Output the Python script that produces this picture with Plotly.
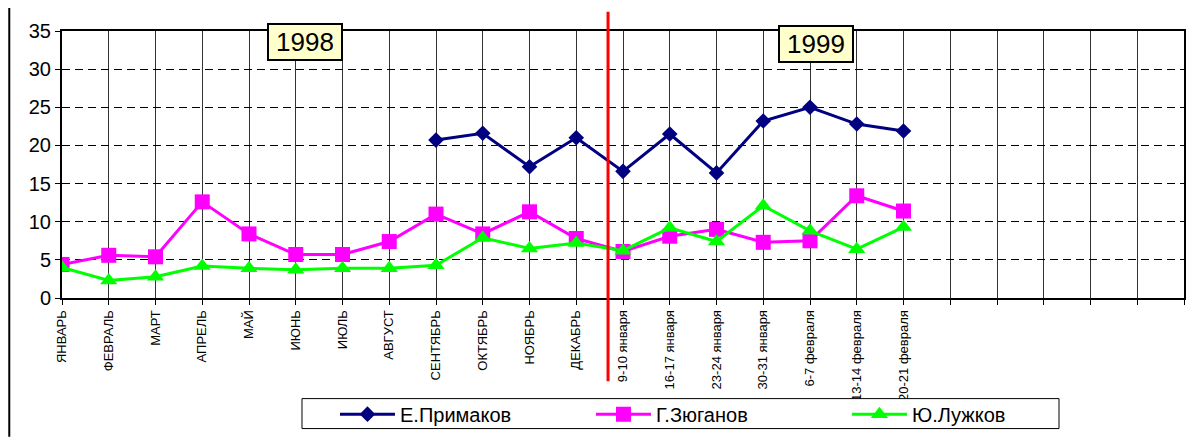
import plotly.graph_objects as go

# categories (19 labelled + 6 empty slots on the right)
periods = ["ЯНВАРЬ", "ФЕВРАЛЬ", "МАРТ", "АПРЕЛЬ", "МАЙ", "ИЮНЬ", "ИЮЛЬ", "АВГУСТ",
           "СЕНТЯБРЬ", "ОКТЯБРЬ", "НОЯБРЬ", "ДЕКАБРЬ",
           "9-10 января", "16-17 января", "23-24 января", "30-31 января",
           "6-7 февраля", "13-14 февраля", "20-21 февраля",
           "", "", "", "", "", ""]

primakov = [None, None, None, None, None, None, None, None,
            20.7, 21.6, 17.2, 21.0, 16.6, 21.5, 16.4, 23.2, 25.0, 22.8, 21.9]
zyuganov = [4.4, 5.6, 5.4, 12.6, 8.4, 5.7, 5.7, 7.4,
            11.0, 8.4, 11.3, 7.8, 6.1, 8.1, 9.0, 7.3, 7.5, 13.4, 11.4]
luzhkov = [4.0, 2.3, 2.8, 4.2, 3.9, 3.7, 3.9, 3.9,
           4.3, 7.9, 6.5, 7.2, 6.2, 9.2, 7.4, 12.1, 8.8, 6.4, 9.3]

FONT = "Liberation Sans, Arial, sans-serif"
idx = list(range(len(periods)))

fig = go.Figure()
series = [
    ("Е.Примаков", primakov, "#000080", "diamond", 12),
    ("Г.Зюганов", zyuganov, "#FF00FF", "square", 15),
    ("Ю.Лужков", luzhkov, "#00FF00", "triangle-up", 15),
]
for name, vals, col, sym, sz in series:
    fig.add_trace(go.Scatter(
        x=idx[:len(vals)], y=vals, name=name, mode="lines+markers",
        line=dict(color=col, width=3),
        marker=dict(symbol=sym, size=sz, color=col),
        connectgaps=False,
    ))

# red separator between 1998 and 1999
fig.add_shape(type="line", xref="x", yref="paper", x0=11.68, x1=11.68,
              y0=1.072, y1=-0.312, line=dict(color="#FF0000", width=3))
# left border of the original chart frame
fig.add_shape(type="line", xref="paper", yref="paper", x0=-0.047, x1=-0.047,
              y0=1.1, y1=-0.52, line=dict(color="black", width=2))
# legend frame (covers the ends of the long tick labels, as in the original)
fig.add_shape(type="rect", xref="paper", yref="paper", x0=0.2139, x1=0.8886,
              y0=-0.3768, y1=-0.489, line=dict(color="black", width=1),
              fillcolor="white", layer="above")

for txt, xpos, ypos in [("1998", 5.2, 0.96), ("1999", 16.13, 0.953)]:
    fig.add_annotation(x=xpos, y=ypos, xref="x", yref="paper", text=txt,
                       xanchor="center", yanchor="middle",
                       showarrow=False, font=dict(size=26, color="black", family=FONT),
                       bgcolor="#FFFFCC", bordercolor="black", borderwidth=2,
                       borderpad=1, width=70, height=32)

fig.update_layout(
    width=1193, height=438,
    margin=dict(l=54, r=17, t=19, b=143),
    paper_bgcolor="white", plot_bgcolor="white",
    font=dict(family=FONT, color="black"),
    showlegend=True,
    legend=dict(orientation="h", x=0.2433, y=-0.362, xanchor="left", yanchor="top",
                borderwidth=0, bgcolor="rgba(0,0,0,0)",
                font=dict(size=20, family=FONT), itemwidth=55,
                entrywidth=186, entrywidthmode="pixels"),
    xaxis=dict(range=[0, 24], tickmode="array", tickvals=idx, ticktext=periods,
               tickangle=-90, tickfont=dict(size=13), ticks="outside", ticklen=5,
               tickcolor="black", showgrid=True, gridcolor="#333333", gridwidth=1,
               showline=True, linecolor="black", linewidth=2, mirror=True,
               zeroline=False),
    yaxis=dict(range=[0, 35], dtick=5, tickfont=dict(size=20), ticks="outside",
               ticklen=5, tickcolor="black", showgrid=True, gridcolor="black",
               griddash="8px,5px", gridwidth=1, showline=True, linecolor="black",
               linewidth=2, mirror=True, zeroline=False),
)

fig.write_html("out.html")
